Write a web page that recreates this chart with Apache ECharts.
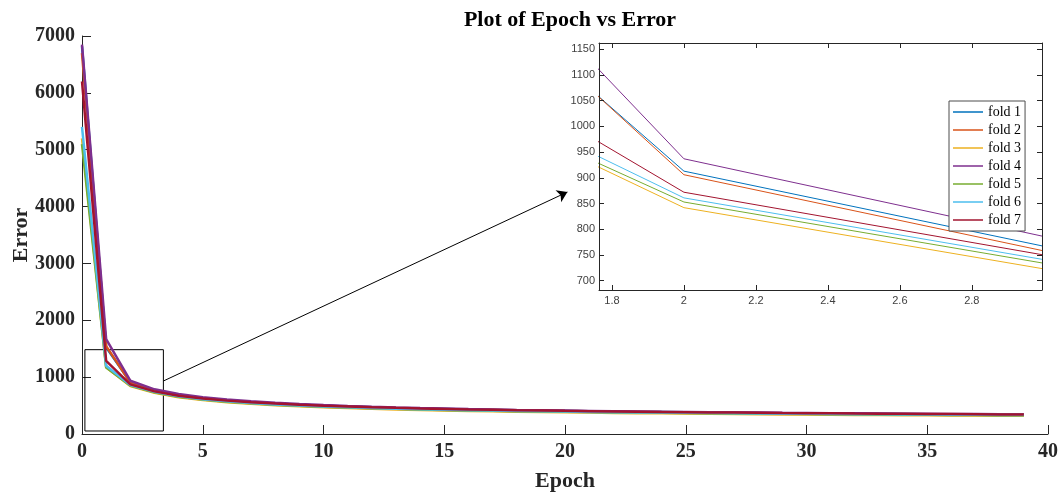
<!DOCTYPE html>
<html>
<head>
<meta charset="utf-8">
<script src="https://cdn.jsdelivr.net/npm/echarts@6/dist/echarts.min.js"></script>
<style>
  html, body { margin: 0; padding: 0; background: #fff; }
  #chart { width: 1062px; height: 492px; }
</style>
</head>
<body>
<div id="chart"></div>
<script>
// epochs 0..39
var epochs = [0, 1, 2, 3, 4, 5, 6, 7, 8, 9, 10, 11, 12, 13, 14, 15, 16, 17, 18, 19,
  20, 21, 22, 23, 24, 25, 26, 27, 28, 29, 30, 31, 32, 33, 34, 35, 36, 37, 38, 39];

// error per fold
var fold1 = [6820, 1525, 913, 767, 684, 632, 593, 562, 537, 516, 499, 484, 471, 459, 449, 440, 432, 424, 417, 411,
  405, 399, 394, 389, 385, 381, 377, 373, 370, 366, 363, 360, 357, 354, 351, 349, 346, 344, 341, 339];
var fold2 = [6700, 1545, 906, 758, 676, 625, 586, 556, 531, 511, 494, 479, 466, 455, 445, 436, 428, 420, 413, 407,
  401, 396, 391, 386, 382, 378, 374, 370, 367, 363, 360, 357, 354, 351, 349, 346, 344, 341, 339, 336];
var fold3 = [5200, 1175, 842, 723, 645, 596, 559, 530, 506, 486, 470, 456, 443, 432, 422, 414, 406, 399, 392, 386,
  381, 376, 371, 367, 363, 359, 355, 352, 348, 345, 342, 339, 336, 334, 331, 329, 326, 324, 322, 320];
var fold4 = [6850, 1670, 937, 786, 702, 648, 606, 574, 548, 527, 509, 493, 480, 468, 457, 448, 439, 431, 424, 418,
  412, 406, 401, 396, 391, 387, 383, 379, 376, 372, 369, 366, 363, 360, 357, 355, 352, 350, 347, 345];
var fold5 = [5100, 1170, 853, 734, 656, 606, 569, 540, 516, 496, 480, 465, 453, 442, 432, 423, 415, 408, 401, 395,
  390, 385, 380, 376, 372, 368, 364, 361, 357, 354, 351, 348, 346, 343, 340, 338, 336, 333, 331, 329];
var fold6 = [5400, 1200, 861, 741, 662, 612, 575, 545, 521, 501, 484, 470, 457, 446, 436, 427, 419, 412, 405, 399,
  394, 389, 384, 380, 376, 372, 368, 364, 361, 358, 355, 352, 349, 347, 344, 342, 339, 337, 335, 333];
var fold7 = [6200, 1285, 872, 750, 672, 623, 587, 558, 535, 515, 498, 484, 471, 460, 450, 441, 433, 426, 419, 413,
  407, 402, 397, 392, 388, 384, 380, 376, 373, 369, 366, 363, 360, 358, 355, 352, 350, 348, 345, 343];

var foldNames = ['fold 1', 'fold 2', 'fold 3', 'fold 4', 'fold 5', 'fold 6', 'fold 7'];
var foldData = [fold1, fold2, fold3, fold4, fold5, fold6, fold7];
var foldColors = ['#0072BD', '#D95319', '#EDB120', '#7E2F8E', '#77AC30', '#4DBEEE', '#A2142F'];

// inset ticks
var insetXTicks = [1.8, 2, 2.2, 2.4, 2.6, 2.8];
var insetYTicks = [700, 750, 800, 850, 900, 950, 1000, 1050, 1100, 1150];

// zoom box + arrow (data coords of the main axes)
var zoomBox = [[0.12, 53], [3.37, 1483]];
var arrowFrom = [3.37, 932];
var arrowTo = [20.1, 4256];

var chart = echarts.init(document.getElementById('chart'));

function pairs(vals) {
  var out = [];
  for (var i = 0; i < epochs.length; i++) {
    out.push([epochs[i], vals[i]]);
  }
  return out;
}
function plain(v) { return String(v); }

var axisCol = '#262626';
var serif = 'Liberation Serif';
var sans = 'Liberation Sans';

var series = [];
for (var i = 0; i < foldData.length; i++) {
  var s = {
    name: foldNames[i] + ' main',
    type: 'line',
    xAxisIndex: 0,
    yAxisIndex: 0,
    data: pairs(foldData[i]),
    symbol: 'none',
    lineStyle: { width: 2.5, color: foldColors[i] },
    itemStyle: { color: foldColors[i] },
    z: 2
  };
  if (i == 0) {
    s.markArea = {
      silent: true,
      itemStyle: { color: 'rgba(0,0,0,0)', borderColor: '#000', borderWidth: 1 },
      data: [[{ coord: zoomBox[0] }, { coord: zoomBox[1] }]]
    };
    s.markLine = {
      silent: true,
      symbol: ['none', 'arrow'],
      symbolSize: 10,
      lineStyle: { color: '#000', width: 1, type: 'solid' },
      label: { show: false },
      data: [[{ coord: arrowFrom }, { coord: arrowTo }]]
    };
  }
  series.push(s);
}
for (var j = 0; j < foldData.length; j++) {
  series.push({
    name: foldNames[j],
    type: 'line',
    xAxisIndex: 1,
    yAxisIndex: 1,
    data: pairs(foldData[j]),
    symbol: 'none',
    clip: true,
    lineStyle: { width: 1, color: foldColors[j] },
    itemStyle: { color: foldColors[j] },
    z: 5
  });
}

var option = {
  backgroundColor: '#fff',
  animation: false,
  title: {
    text: 'Plot of Epoch vs Error',
    left: 565,
    textAlign: 'center',
    top: 4,
    textStyle: { fontFamily: serif, fontWeight: 'bold', fontSize: 22, color: '#000' }
  },
  legend: {
    data: foldNames,
    orient: 'vertical',
    left: 949,
    top: 101,
    padding: [4, 4, 4, 4],
    icon: 'rect',
    itemWidth: 30,
    itemHeight: 1.5,
    itemGap: 4,
    backgroundColor: '#fff',
    borderColor: '#4d4d4d',
    borderWidth: 1,
    z: 10,
    textStyle: { fontFamily: serif, fontSize: 14, color: '#000', lineHeight: 14 }
  },
  grid: [
    { left: 82, right: 14, top: 36, bottom: 58, outerBoundsMode: 'none' },
    { left: 599, right: 20, top: 43, bottom: 202, outerBoundsMode: 'none',
      show: true, backgroundColor: '#fff', borderWidth: 0, z: 4 }
  ],
  xAxis: [
    {
      type: 'value', gridIndex: 0, min: 0, max: 40, interval: 5,
      name: 'Epoch', nameLocation: 'middle', nameGap: 36,
      nameTextStyle: { fontFamily: serif, fontWeight: 'bold', fontSize: 22, color: axisCol },
      axisLine: { lineStyle: { color: axisCol } },
      axisTick: { inside: true, length: 9, lineStyle: { color: axisCol } },
      axisLabel: { margin: 8, fontFamily: serif, fontWeight: 'bold', fontSize: 20, color: axisCol, formatter: plain },
      splitLine: { show: false }
    },
    {
      type: 'value', gridIndex: 1, min: 1.764, max: 2.995,
      axisLine: { onZero: false, lineStyle: { color: axisCol } },
      axisTick: { inside: true, length: 5, customValues: insetXTicks, lineStyle: { color: axisCol } },
      axisLabel: { margin: 5, fontFamily: sans, fontSize: 11, color: '#404040', customValues: insetXTicks, formatter: plain },
      splitLine: { show: false },
      z: 6
    },
    {
      type: 'value', gridIndex: 1, min: 1.764, max: 2.995, position: 'top',
      axisLine: { onZero: false, lineStyle: { color: axisCol } },
      axisTick: { inside: true, length: 5, customValues: insetXTicks, lineStyle: { color: axisCol } },
      axisLabel: { show: false },
      splitLine: { show: false },
      z: 6
    }
  ],
  yAxis: [
    {
      type: 'value', gridIndex: 0, min: 0, max: 7000, interval: 1000,
      name: 'Error', nameLocation: 'middle', nameGap: 50, nameMoveOverlap: false,
      nameTextStyle: { fontFamily: serif, fontWeight: 'bold', fontSize: 22, color: axisCol },
      axisLine: { show: true, lineStyle: { color: axisCol } },
      axisTick: { show: true, inside: true, length: 9, lineStyle: { color: axisCol } },
      axisLabel: { margin: 7, fontFamily: serif, fontWeight: 'bold', fontSize: 20, color: axisCol, formatter: plain },
      splitLine: { show: false }
    },
    {
      type: 'value', gridIndex: 1, min: 682, max: 1162,
      axisLine: { show: true, onZero: false, lineStyle: { color: axisCol } },
      axisTick: { show: true, inside: true, length: 5, customValues: insetYTicks, lineStyle: { color: axisCol } },
      axisLabel: { margin: 4, fontFamily: sans, fontSize: 11, color: '#404040', customValues: insetYTicks, formatter: plain },
      splitLine: { show: false },
      z: 6
    },
    {
      type: 'value', gridIndex: 1, min: 682, max: 1162, position: 'right',
      axisLine: { show: true, onZero: false, lineStyle: { color: axisCol } },
      axisTick: { show: true, inside: true, length: 5, customValues: insetYTicks, lineStyle: { color: axisCol } },
      axisLabel: { show: false },
      splitLine: { show: false },
      z: 6
    }
  ],
  series: series
};

chart.setOption(option);
</script>
</body>
</html>
